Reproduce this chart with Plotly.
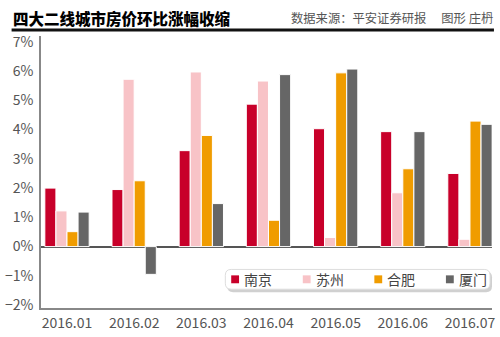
import plotly.graph_objects as go

months = ["2016.01", "2016.02", "2016.03", "2016.04", "2016.05", "2016.06", "2016.07"]
nanjing = [2.0, 1.95, 3.28, 4.87, 4.03, 3.93, 2.5]
suzhou = [1.22, 5.72, 5.97, 5.66, 0.31, 1.84, 0.25]
hefei = [0.51, 2.25, 3.8, 0.9, 5.94, 2.66, 4.29]
xiamen = [1.18, -0.95, 1.47, 5.88, 6.07, 3.93, 4.18]
y_ticks = [-2, -1, 0, 1, 2, 3, 4, 5, 6, 7]
y_ticklabels = ["−2%", "−1%", "0%", "1%", "2%", "3%", "4%", "5%", "6%", "7%"]

series = [
    ("南京", nanjing, "#c8002a"),
    ("苏州", suzhou, "#f8c3c7"),
    ("合肥", hefei, "#f09c00"),
    ("厦门", xiamen, "#666666"),
]

FONT = "Noto Sans CJK SC"

fig = go.Figure()
for name, vals, col in series:
    fig.add_trace(go.Bar(
        x=months, y=vals, name=name,
        marker=dict(color=col, line=dict(color="white", width=1)),
    ))

# pixel -> paper helpers (plot area: x 35..495, y 36..311)
L, R, T, B = 35, 495, 36, 311
def px(x):
    return (x - L) / (R - L)
def py(y):
    return (B - y) / (B - T)

def rounded_rect(x0, y0, x1, y1, r):
    pts = [
        f"M {px(x0 + r)},{py(y0)}",
        f"L {px(x1 - r)},{py(y0)}",
        f"Q {px(x1)},{py(y0)} {px(x1)},{py(y0 + r)}",
        f"L {px(x1)},{py(y1 - r)}",
        f"Q {px(x1)},{py(y1)} {px(x1 - r)},{py(y1)}",
        f"L {px(x0 + r)},{py(y1)}",
        f"Q {px(x0)},{py(y1)} {px(x0)},{py(y1 - r)}",
        f"L {px(x0)},{py(y0 + r)}",
        f"Q {px(x0)},{py(y0)} {px(x0 + r)},{py(y0)}",
        "Z",
    ]
    return " ".join(pts)

shapes = [
    dict(type="line", xref="paper", yref="paper", x0=px(5), x1=px(497),
         y0=py(30), y1=py(30), line=dict(color="#111111", width=3)),
    # legend shadow + box
    dict(type="path", xref="paper", yref="paper", path=rounded_rect(225, 274, 495, 295, 6),
         fillcolor="rgba(120,120,120,0.35)", line=dict(width=0), layer="above"),
    dict(type="path", xref="paper", yref="paper", path=rounded_rect(223, 272, 493, 292, 6),
         fillcolor="white", line=dict(color="#dddddd", width=1), layer="above"),
]
annotations = [
    dict(text="四大二线城市房价环比涨幅收缩", xref="paper", yref="paper",
         x=px(4), y=py(18), xanchor="left", yanchor="middle", showarrow=False,
         font=dict(size=15.5, color="#000000", family=FONT, weight=900)),
    dict(text="数据来源：平安证券研报　 图形 庄枬", xref="paper", yref="paper",
         x=px(498), y=py(18), xanchor="right", yanchor="middle", showarrow=False,
         font=dict(size=12.3, color="#555555", family=FONT)),
]
for i, (name, vals, col) in enumerate(series):
    sx = 229 + 73 * i
    shapes.append(dict(type="rect", xref="paper", yref="paper",
                       x0=px(sx), x1=px(sx + 8), y0=py(278), y1=py(286),
                       fillcolor=col, line=dict(width=0), layer="above"))
    annotations.append(dict(text=name, xref="paper", yref="paper",
                            x=px(sx + 11), y=py(282), xanchor="left", yanchor="middle",
                            showarrow=False, font=dict(size=14, color="#444444", family=FONT)))

fig.update_layout(
    width=500, height=337,
    margin=dict(l=L, r=500 - R, t=T, b=337 - B),
    paper_bgcolor="white", plot_bgcolor="white",
    barmode="group", bargap=0.34, bargroupgap=0,
    font=dict(family=FONT, color="#555555", size=13),
    showlegend=False,
    xaxis=dict(
        type="category", range=[-0.387, 6.328],
        showline=True, linecolor="#888888", linewidth=1.5,
        ticks="", ticklabelstandoff=1, tickfont=dict(size=14, color="#555555"),
        showgrid=False, zeroline=False,
    ),
    yaxis=dict(
        range=[-2.1, 7.2], tickvals=y_ticks, ticktext=y_ticklabels,
        showline=True, linecolor="#888888", linewidth=1.5,
        ticks="", ticklabelstandoff=3, tickfont=dict(size=14, color="#555555"),
        showgrid=False, zeroline=True, zerolinecolor="#555555", zerolinewidth=1.5,
    ),
    annotations=annotations,
    shapes=shapes,
)

fig.write_html("out.html")
